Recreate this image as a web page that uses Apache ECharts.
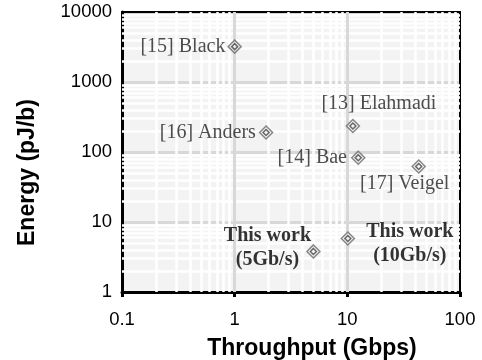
<!DOCTYPE html>
<html>
<head>
<meta charset="utf-8">
<script src="https://cdn.jsdelivr.net/npm/echarts@6/dist/echarts.min.js"></script>
<style>
  html, body { margin: 0; padding: 0; background: #fff; }
  #chart { width: 482px; height: 360px; }
</style>
</head>
<body>
<div id="chart"></div>
<script>
// 数据
var names = ["[15] Black", "[16] Anders", "[13] Elahmadi", "[14] Bae", "[17] Veigel", "This work\n(5Gb/s)", "This work\n(10Gb/s)"];
var throughput = [1.0, 1.9, 11.2, 12.5, 43, 5.0, 10.1];   // Gbps
var energy = [3200, 190, 235, 83, 62, 3.8, 5.8];          // pJ/b
var xTicks = [0.1, 1, 10, 100];
var yTicks = [1, 10, 100, 1000, 10000];

// label placement per point (style only)
var labelPos = [
  { position: "left", distance: 2 },
  { position: "left", distance: 3 },
  { position: "inside", offset: [26, -22] },
  { position: "left", distance: 4 },
  { position: "inside", offset: [-14, 17] },
  { position: "inside", offset: [-46, -4], bold: true },
  { position: "inside", offset: [62, 5], bold: true }
];

var chart = echarts.init(document.getElementById("chart"));

// minor grid lines 2..9 per decade
var minorX = [], minorY = [];
for (var i = 0; i < xTicks.length - 1; i++) {
  for (var k = 2; k <= 9; k++) minorX.push({ xAxis: xTicks[i] * k });
}
for (var j = 0; j < yTicks.length - 1; j++) {
  for (var m = 2; m <= 9; m++) minorY.push({ yAxis: yTicks[j] * m });
}
var majorX = xTicks.slice(1, -1).map(function (v) { return { xAxis: v }; });

var pts = names.map(function (n, i) {
  var lp = labelPos[i];
  return {
    name: n,
    value: [throughput[i], energy[i]],
    label: {
      show: true,
      formatter: "{b}",
      position: lp.position,
      distance: lp.distance || 0,
      offset: lp.offset || [0, 0],
      align: lp.position === "inside" ? "center" : "right",
      fontFamily: "Liberation Serif",
      fontSize: 20,
      fontWeight: lp.bold ? "bold" : "normal",
      color: lp.bold ? "#000" : "#222",
      lineHeight: 24
    }
  };
});

var frameLine = { show: true, onZero: false, lineStyle: { color: "#000", width: 3 } };

var option = {
  animation: false,
  backgroundColor: "#fff",
  grid: {
    left: 122, right: 22, top: 12, bottom: 68,
    outerBoundsMode: "none",
    show: true,
    backgroundColor: "#f3f3f3",
    borderWidth: 0
  },
  xAxis: [{
    type: "log",
    logBase: 10,
    min: 0.1,
    max: 100,
    name: "Throughput (Gbps)",
    nameLocation: "middle",
    nameGap: 45,
    nameTextStyle: {
      fontFamily: "Liberation Sans", fontSize: 23, fontWeight: "bold", color: "#000",
      padding: [0, 0, 0, 42]
    },
    axisLine: frameLine,
    axisTick: { show: true, length: 5, lineStyle: { color: "#000", width: 3 } },
    axisLabel: { fontFamily: "Liberation Sans", fontSize: 18.5, color: "#000", margin: 18 },
    splitLine: { show: false }
  }, {
    type: "log",
    position: "top",
    min: 0.1,
    max: 100,
    axisLine: { show: true, lineStyle: { color: "#000", width: 2 } },
    axisTick: { show: false },
    axisLabel: { show: false },
    splitLine: { show: false }
  }],
  yAxis: [{
    type: "log",
    logBase: 10,
    min: 1,
    max: 10000,
    name: "Energy (pJ/b)",
    nameLocation: "middle",
    nameGap: 83,
    nameTextStyle: {
      fontFamily: "Liberation Sans", fontSize: 23, fontWeight: "bold", color: "#000",
      padding: [0, 41, 0, 0]
    },
    axisLine: frameLine,
    axisTick: { show: false },
    axisLabel: {
      fontFamily: "Liberation Sans", fontSize: 18.5, color: "#000", margin: 10,
      formatter: function (v) { return String(v); }
    },
    splitLine: { show: true, lineStyle: { color: "#d8d8d8", width: 3 } }
  }, {
    type: "log",
    position: "right",
    min: 1,
    max: 10000,
    axisLine: { show: true, lineStyle: { color: "#000", width: 2 } },
    axisTick: { show: false },
    axisLabel: { show: false },
    splitLine: { show: false }
  }],
  series: [
    {
      // white minor grid
      type: "scatter",
      data: [],
      silent: true,
      z: 1,
      markLine: {
        silent: true,
        symbol: "none",
        label: { show: false },
        lineStyle: { color: "#fff", width: 2.5, type: "solid" },
        data: minorX.concat(minorY)
      }
    },
    {
      // vertical major grid
      type: "scatter",
      data: [],
      silent: true,
      z: 2,
      markLine: {
        silent: true,
        symbol: "none",
        label: { show: false },
        lineStyle: { color: "#d8d8d8", width: 3, type: "solid" },
        data: majorX
      }
    },
    {
      type: "scatter",
      z: 5,
      symbol: "diamond",
      symbolSize: 13,
      itemStyle: { color: "#f4f4f4", borderColor: "#6a6a6a", borderWidth: 1.5 },
      data: pts
    },
    {
      type: "scatter",
      z: 6,
      silent: true,
      symbol: "diamond",
      symbolSize: 6,
      itemStyle: { color: "rgba(0,0,0,0)", borderColor: "#444", borderWidth: 1.5 },
      data: throughput.map(function (x, i) { return [x, energy[i]]; })
    }
  ]
};

chart.setOption(option);
</script>
</body>
</html>
